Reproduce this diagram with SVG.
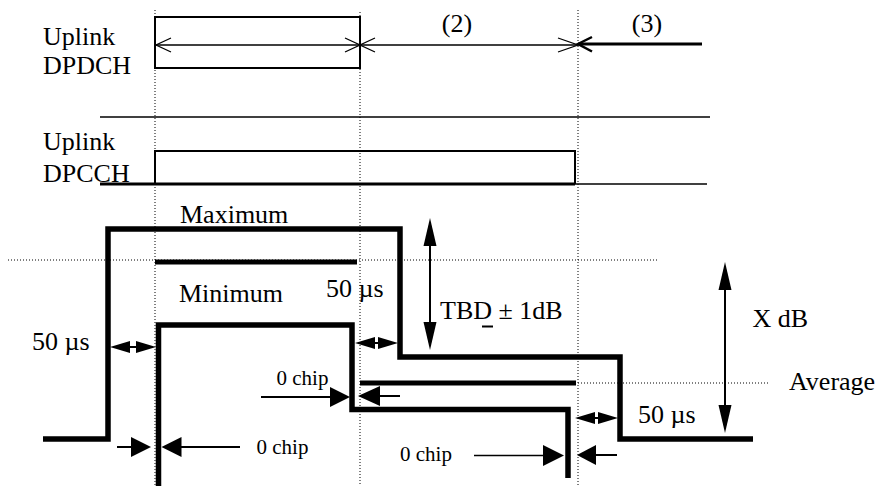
<svg xmlns="http://www.w3.org/2000/svg" width="880" height="486" viewBox="0 0 880 486">
<style>
text{font-family:"Liberation Serif","Times New Roman",serif;font-size:26px;fill:#000}
.sm{font-size:21px}
.dot{stroke:#000;stroke-width:1;stroke-dasharray:1 2;fill:none}
.thin{stroke:#000;stroke-width:1.3;fill:none}
.med{stroke:#000;stroke-width:2;fill:none}
.thick{stroke:#000;stroke-width:5;fill:none}
.tr{stroke:#000;stroke-width:5.5;fill:none;stroke-linejoin:miter}
.ah{fill:#000;stroke:none}
</style>
<rect width="880" height="486" fill="#fff"/>
<g id="grid">
<line class="dot" x1="155" y1="10" x2="155" y2="486"/>
<line class="dot" x1="360" y1="12" x2="360" y2="486"/>
<line class="dot" x1="578" y1="10" x2="578" y2="486"/>
<line class="dot" x1="8" y1="260" x2="658" y2="260"/>
<line class="dot" x1="575" y1="383" x2="768" y2="383"/>
</g>
<g id="dpdch">
<text x="43" y="44.5">Uplink</text>
<text x="43" y="74">DPDCH</text>
<rect class="med" x="155" y="17" width="205" height="51"/>
</g>
<g id="separator">
<line class="thin" x1="100" y1="117" x2="710" y2="117" stroke-width="1.5"/>
</g>
<g id="dpcch">
<text x="43" y="150">Uplink</text>
<text x="43" y="182">DPCCH</text>
<polyline class="med" points="155,184 155,151 575,151 575,184"/>
<line x1="100" y1="184" x2="575" y2="184" stroke="#000" stroke-width="3"/>
<line class="thin" x1="575" y1="184" x2="707" y2="184" stroke-width="1.5"/>
</g>
<g id="maximum">
<text x="180" y="222.5">Maximum</text>
<polyline class="tr" points="43,439 108,439 108,229 400,229 400,357 620,357 620,439 753,439"/>
<line class="thick" x1="155" y1="262" x2="357" y2="262"/>
</g>
<g id="minimum">
<text x="179" y="301.5">Minimum</text>
<polyline class="tr" points="158.5,486 158.5,325 352,325 352,409.5 568,409.5 568,478" stroke-width="6"/>
<line class="thick" x1="360" y1="383" x2="576" y2="383"/>
</g>
<g id="labels">
<text x="457" y="32" text-anchor="middle">(2)</text>
<text x="647" y="32" text-anchor="middle">(3)</text>
<text x="440" y="318.5">TBD ± 1dB</text>
<text x="752.5" y="326.5">X dB</text>
<text x="789" y="389.5">Average</text>
<text x="32" y="350">50 µs</text>
<text x="326" y="297">50 µs</text>
<text x="638" y="422.5">50 µs</text>
<text class="sm" x="276.5" y="385">0 chip</text>
<text class="sm" x="256.5" y="453.5">0 chip</text>
<text class="sm" x="400" y="460.5">0 chip</text>
</g>
<g id="connectors">
<!-- top timing arrows -->
<line class="thin" x1="155" y1="45" x2="360" y2="45"/>
<polyline class="thin" points="171,38 156,45 171,52"/>
<polyline class="thin" points="345,38 360,45 345,52"/>
<polyline class="thin" points="375,38 360,45 375,52"/>
<line class="thin" x1="360" y1="45" x2="578" y2="45"/>
<polyline class="thin" points="558,38 578,45 558,52"/>
<line x1="578" y1="44" x2="702" y2="44" stroke="#000" stroke-width="3"/>
<polyline points="592,37 578,44 592,51.5" stroke="#000" stroke-width="2.5" fill="none"/>
<!-- TBD arrow -->
<line class="med" x1="430" y1="230" x2="430" y2="340"/>
<polygon class="ah" points="430,218 423.5,246 436.5,246"/>
<polygon class="ah" points="430,350 423.5,322 436.5,322"/>
<!-- X dB arrow -->
<line class="med" x1="725" y1="275" x2="725" y2="420"/>
<polygon class="ah" points="725,262 718.5,290 731.5,290"/>
<polygon class="ah" points="725,433 718.5,405 731.5,405"/>
<line class="med" x1="482" y1="326.5" x2="493" y2="326.5"/>
<!-- 50us double arrows -->
<line class="med" x1="115" y1="347" x2="150" y2="347"/>
<polygon class="ah" points="110,347 130,341 130,353"/>
<polygon class="ah" points="156,347 136,341 136,353"/>
<line class="med" x1="360" y1="343" x2="393" y2="343"/>
<polygon class="ah" points="355,343 375,337 375,349"/>
<polygon class="ah" points="398,343 378,337 378,349"/>
<line class="med" x1="580" y1="418" x2="613" y2="418"/>
<polygon class="ah" points="575,418 595,412 595,424"/>
<polygon class="ah" points="618,418 598,412 598,424"/>
<!-- 0 chip arrows -->
<line class="med" x1="261" y1="397" x2="335" y2="397"/>
<polygon class="ah" points="350,397 330,387 330,407"/>
<line class="med" x1="375" y1="396" x2="400" y2="396"/>
<polygon class="ah" points="358,396 380,386 380,406"/>
<line class="med" x1="117" y1="447" x2="135" y2="447"/>
<polygon class="ah" points="151,447 131,437 131,457"/>
<line class="med" x1="175" y1="447" x2="240" y2="447"/>
<polygon class="ah" points="161.5,447 181.5,437 181.5,457"/>
<line class="thin" x1="474" y1="455.5" x2="548" y2="455.5" stroke-width="1.6"/>
<polygon class="ah" points="564,455.5 543,445 543,466"/>
<line class="med" x1="590" y1="455" x2="617" y2="455"/>
<polygon class="ah" points="577,455 596,445 596,465"/>
</g>
</svg>
